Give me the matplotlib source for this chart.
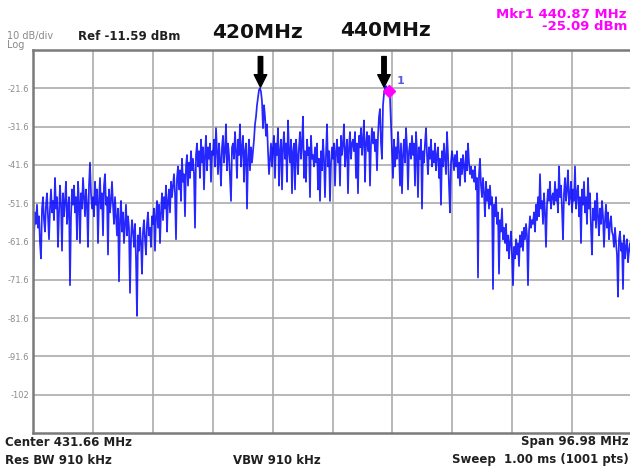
import numpy as np
import matplotlib
matplotlib.use('Agg')
import matplotlib.pyplot as plt

# analyzer settings
center_mhz = 431.66
span_mhz = 96.98
ref_dbm = -11.59
db_per_div = 10

# trace levels (dBm) left to right (about one per pixel)
levels_left = [
    -75, -60, -54, -57, -52, -58, -55, -62, -66, -53, -50, -56, -59, -52, -49, -55, -61, -53, -48, -54,
    -51, -56, -45, -53, -50, -63, -54, -47, -52, -64, -49, -55, -51, -46, -57, -53, -50, -73, -55, -48,
    -52, -47, -54, -50, -61, -46, -51, -62, -49, -53, -45, -50, -55, -48, -52, -63, -47, -41, -49, -53,
    -50, -55, -46, -52, -48, -62, -51, -45, -53, -49, -60, -47, -44, -52, -50, -65, -48, -54, -51, -46,
    -52, -57, -50, -55, -60, -53, -72, -56, -51, -59, -54, -62, -57, -52, -60, -55, -58, -75, -61, -56,
    -59, -63, -57, -66, -81, -60, -64, -58, -62, -70, -59, -56, -61, -65, -57, -54, -60, -58, -63, -55,
    -57, -53, -64, -55, -51, -58, -52, -62, -54, -49, -56, -50, -53, -47, -59, -51, -48, -54, -46, -50,
    -47, -44, -49, -61, -45, -42, -48, -43, -51, -40, -46, -44, -55, -42, -39, -47, -41, -45, -38, -43,
    -40, -44, -58, -39, -36, -42, -38, -45, -35, -41, -37, -48, -39, -34, -43, -37, -40, -36, -46, -38,
    -39, -35, -42, -32, -38, -44, -36, -40, -47, -37, -34, -41, -38, -31, -43, -36, -39, -45, -51, -37,
]
levels_mid = [
    -36, -40, -33, -38, -45, -35, -39, -31, -42, -37, -34, -46, -38, -36, -53, -40, -35, -43, -37, -41,
    -38, -35, -31, -29, -26, -24, -22, -21.6, -22.5, -25, -32, -26, -29, -34, -31, -38, -44, -40, -36, -42,
    -37, -34, -45, -36, -39, -32, -47, -38, -35, -48, -37, -33, -40, -36, -46, -30, -38, -41, -35, -49,
    -38, -36, -48, -35, -39, -44, -37, -33, -40, -36, -29, -45, -38, -46, -35, -39, -37, -50, -34, -40,
    -39, -42, -37, -41, -36, -48, -40, -51, -38, -43, -35, -40, -50, -39, -31, -42, -38, -51, -41, -37,
    -40, -36, -47, -38, -35, -41, -37, -47, -34, -39, -36, -31, -42, -38, -35, -49, -37, -33, -40, -36,
    -35, -38, -33, -45, -36, -49, -34, -37, -32, -39, -35, -30, -46, -36, -33, -38, -34, -47, -36, -32,
    -36, -33, -38, -35, -43, -34, -29, -27, -36, -40, -26, -23, -21.5, -21, -22, -21.5, -22.5, -24, -31, -38,
    -45, -35, -42, -37, -40, -33, -38, -47, -36, -49, -39, -35, -41, -32, -37, -48, -38, -36, -40, -34,
    -39, -36, -47, -33, -38, -50, -37, -40, -35, -53, -38, -41, -36, -32, -39, -44, -37, -40, -35, -42,
]
levels_right = [
    -38, -41, -36, -43, -39, -37, -45, -40, -52, -38, -42, -36, -40, -44, -33, -39, -47, -54, -41, -38,
    -40, -43, -39, -42, -38, -45, -41, -47, -40, -44, -39, -42, -46, -38, -43, -36, -41, -44, -42, -45,
    -43, -46, -42, -48, -45, -71, -44, -40, -47, -50, -45, -49, -55, -46, -51, -48, -53, -47, -52, -50,
    -74, -52, -55, -50, -57, -54, -70, -56, -59, -53, -61, -58, -62, -57, -64, -60, -66, -62, -59, -65,
    -73, -63, -66, -61, -65, -62, -68, -60, -63, -59, -64, -58, -61, -57, -60, -73, -59, -55, -58, -56,
    -57, -54, -59, -52, -56, -50, -55, -44, -53, -51, -57, -49, -54, -63, -52, -48, -51, -46, -53, -50,
    -49, -52, -46, -51, -48, -54, -42, -50, -47, -53, -61, -49, -45, -51, -48, -43, -52, -50, -46, -54,
    -48, -51, -42, -53, -49, -47, -55, -50, -62, -48, -52, -46, -54, -50, -57, -45, -53, -49, -58, -65,
    -53, -56, -51, -58, -49, -55, -60, -53, -57, -51, -55, -63, -56, -52, -58, -54, -61, -57, -55, -59,
    -60, -63, -58, -62, -65, -76, -61, -59, -64, -62, -74, -60, -66, -63, -61, -67, -64, -62, -65, -63,
]

# marker and arrow labels
mkr_freq = 440.87
mkr_level = -22.4
arrow_freqs = [420, 440]
arrow_labels = ['420MHz', '440MHz']

y_labels = ['-21.6', '-31.6', '-41.6', '-51.6', '-61.6', '-71.6', '-81.6', '-91.6', '-102']

levels = np.array(levels_left + levels_mid + levels_right)
f_start = center_mhz - span_mhz / 2
f_stop = center_mhz + span_mhz / 2
freqs = np.linspace(f_start, f_stop, len(levels))

W, H = 630, 472
fig = plt.figure(figsize=(W / 100, H / 100), dpi=100)
ax = fig.add_axes([33 / W, 1 - 433 / H, 599 / W, 383 / H])

ax.plot(freqs, levels, color='#0000ff', lw=1.25, alpha=0.85)

ax.set_xlim(f_start, f_stop)
ax.set_ylim(ref_dbm - 10 * db_per_div, ref_dbm)
ax.set_xticks([f_start + k * span_mhz / 10 for k in range(1, 10)])
ax.set_xticklabels([])
ax.set_yticks([ref_dbm - k * db_per_div for k in range(1, 10)])
ax.set_yticklabels(y_labels)
ax.tick_params(axis='x', length=0)
ax.tick_params(axis='y', length=0, pad=2.5, labelsize=6, labelcolor='#8c8c8c')
ax.grid(True, color='#ababab', lw=1.2)
ax.set_axisbelow(True)
for s in ax.spines.values():
    s.set_color('#7a7a7a')
    s.set_linewidth(1.8)

# marker 1
ax.plot([mkr_freq], [mkr_level], marker='D', ms=6.5, color='#ff00ff', mec='#ff00ff')
ax.annotate('1', (mkr_freq, mkr_level), xytext=(5, 5), textcoords='offset points',
            fontsize=8, fontweight='bold', color='#5a5ae6')

# black arrows over the two carriers
for f in arrow_freqs:
    ax.annotate('', xy=(f, -21.3), xytext=(f, -13.3),
                arrowprops=dict(arrowstyle='simple,head_length=0.9,head_width=0.9,tail_width=0.32',
                                color='black', shrinkA=0, shrinkB=0),
                annotation_clip=False)


def px_text(x, y, s, **kw):
    fig.text(x / W, 1 - y / H, s, va='center', family='DejaVu Sans', **kw)


px_text(7, 35.5, '10 dB/div', fontsize=7, color='#8a8a8a')
px_text(7, 45, 'Log', fontsize=7, color='#8a8a8a')
px_text(78, 37, 'Ref -11.59 dBm', fontsize=8.5, fontweight='bold', color='#202020')
px_text(257.5, 33, arrow_labels[0], fontsize=14.5, fontweight='bold', color='#111111', ha='center')
px_text(385, 30, arrow_labels[1], fontsize=14.5, fontweight='bold', color='#111111', ha='center')
px_text(627, 14.5, 'Mkr1 440.87 MHz', fontsize=9.5, fontweight='bold', color='#ff00ff', ha='right')
px_text(627, 26.5, '-25.09 dBm', fontsize=9.5, fontweight='bold', color='#ff00ff', ha='right')

px_text(5, 442, 'Center 431.66 MHz', fontsize=8.5, fontweight='bold', color='#202020')
px_text(5, 460, 'Res BW 910 kHz', fontsize=8.5, fontweight='bold', color='#202020')
px_text(277, 460, 'VBW 910 kHz', fontsize=8.5, fontweight='bold', color='#202020', ha='center')
px_text(629, 442, 'Span 96.98 MHz', fontsize=8.5, fontweight='bold', color='#202020', ha='right')
px_text(629, 460, 'Sweep  1.00 ms (1001 pts)', fontsize=8.5, fontweight='bold', color='#202020', ha='right')

fig.savefig('out.png', dpi=100)
